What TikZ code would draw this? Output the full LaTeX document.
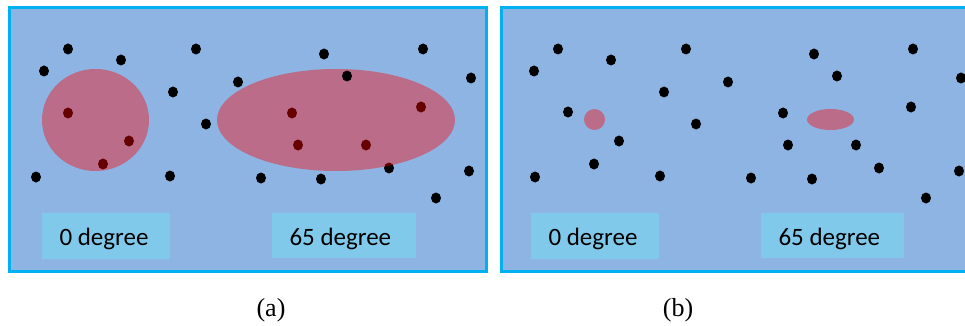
\documentclass[tikz,border=0pt]{standalone}
\usepackage{fontspec}
\setmainfont{Liberation Serif}
\newfontfamily\labelfont{Carlito}
\usetikzlibrary{positioning}

\definecolor{panelblue}{RGB}{142,180,227}
\definecolor{frameblue}{RGB}{0,176,240}
\definecolor{tagblue}{RGB}{128,201,234}

\begin{document}
\begin{tikzpicture}[x=1pt,y=-1pt,
      panel/.style={draw=frameblue, line width=3pt, fill=panelblue},
      pt/.style={fill=black},
      blob/.style={fill=red, fill opacity=0.4},
      tag/.style={fill=tagblue, inner sep=0pt, anchor=north west},
      tagtext/.style={font=\labelfont\fontsize{25}{28}\selectfont, anchor=base west},
      caption/.style={font=\fontsize{26}{30}\selectfont}
    ]
    \useasboundingbox (0,0) rectangle (965,326);

    % panel (a)
    \draw[panel] (9,8) rectangle (486,271);
    \foreach \x/\y in {68/49,121/60,44/71,196/49,173/92,238/82,324/54,423/49,471/78,
                       206/124,36/177,170/176,261/178,321/179,389/168,469/171,436/198,
                       68/113,129/141,103/164,292/113,421/107,298/145,366/145}
      \fill[pt] (\x,\y) ellipse (5pt and 5.5pt);
    \fill[blob] (95.5,120) ellipse (53.5pt and 51pt);
    \fill[blob] (336,120) ellipse (119pt and 51pt);
    \fill[pt] (347,76) ellipse (5pt and 5.5pt);
    \node[tag, minimum width=128pt, minimum height=46pt] (tagA0) at (42,213) {};
    \node[tag, minimum width=144pt, minimum height=45pt] (tagA65) at (272,213) {};
    \node[tagtext] (txtA0) at (56,245) {0 degree};
    \node[tagtext] (txtA65) at (286,245) {65 degree};

    % panel (b)
    \draw[panel] (501,8) rectangle (970,271);
    \foreach \x/\y in {558/49,611/60,534/71,686/49,664/92,728/82,814/54,837/76,913/49,961/78,
                       568/112,619/141,594/164,696/124,783/113,911/107,788/145,856/145,
                       535/177,660/176,751/178,812/179,879/168,959/171,926/198}
      \fill[pt] (\x,\y) ellipse (5pt and 5.5pt);
    \fill[blob] (594.5,119.5) ellipse (10.5pt and 10.5pt);
    \fill[blob] (830.5,119.5) ellipse (23.5pt and 10.5pt);
    \node[tag, minimum width=128pt, minimum height=46pt] (tagB0) at (531,213) {};
    \node[tag, minimum width=143pt, minimum height=45pt] (tagB65) at (761,213) {};
    \node[tagtext] (txtB0) at (545,245) {0 degree};
    \node[tagtext] (txtB65) at (775,245) {65 degree};

    \node[caption] (capA) at (271,310) {(a)};
    \node[caption] (capB) at (678,310) {(b)};
  \end{tikzpicture}
\end{document}
